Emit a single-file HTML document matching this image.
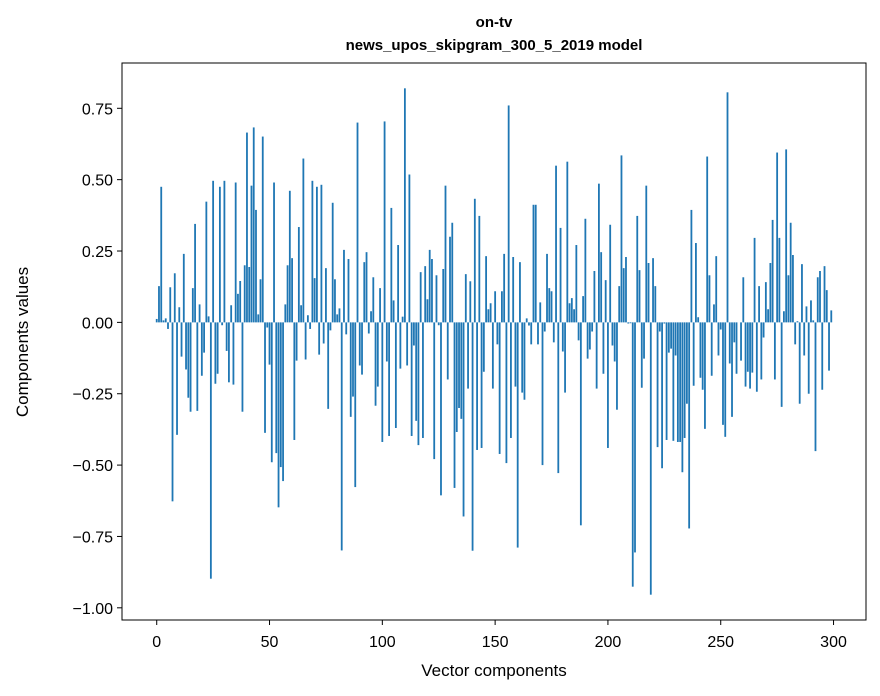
<!DOCTYPE html>
<html><head><meta charset="utf-8"><style>
body{margin:0;background:#fff}
svg{display:block;font-family:"Liberation Sans",sans-serif}
</style></head><body>
<svg id="chart" width="880" height="696">
<text x="494" y="27" text-anchor="middle" font-size="15" font-weight="bold">on-tv</text>
<text x="494" y="50" text-anchor="middle" font-size="15" font-weight="bold">news_upos_skipgram_300_5_2019 model</text>
<g id="bars"></g>
<rect x="122" y="63" width="744" height="557" fill="none" stroke="#000" stroke-width="1"/>
<g id="xt"></g>
<g id="yt"></g>
<text x="494" y="676" text-anchor="middle" font-size="17">Vector components</text>
<text transform="translate(28,342) rotate(-90)" text-anchor="middle" font-size="17">Components values</text>
</svg>
<script>
const values1=[0.012,0.127,0.475,0.007,0.014,-0.023,0.123,-0.627,0.172,-0.394,0.053,-0.12,0.24,-0.165,-0.264,-0.313,0.12,0.345,-0.31,0.063,-0.187,-0.106,0.423,0.021,-0.898,0.496,-0.215,-0.18,0.475,-0.01,0.496,-0.1,-0.21,0.06,-0.218,0.49,0.1,0.145,-0.313,0.2,0.665,0.194,0.479,0.683,0.394,0.028,0.151,0.651,-0.387,-0.018,-0.148];
const values2=[-0.49,0.49,-0.458,-0.648,-0.507,-0.556,0.063,0.2,0.461,0.225,-0.412,-0.134,0.334,0.06,0.574,-0.13,0.025,-0.023,0.496,0.155,0.475,-0.113,0.482,-0.074,0.19,-0.303,-0.028,0.419,0.151,0.028,0.049,-0.799,0.254,-0.042,0.222,-0.331,-0.26,-0.577,0.70,-0.151,-0.183,0.211,0.246,-0.039,0.039,0.158,-0.292,-0.225,0.12,-0.419,0.704];
const values3=[-0.137,-0.398,0.401,0.077,-0.37,0.271,-0.162,0.02,0.82,-0.151,0.518,-0.398,-0.081,-0.345,-0.43,0.176,-0.405,0.197,0.081,0.254,0.222,-0.479,0.165,-0.01,-0.606,0.187,0.479,-0.2,0.3,0.349,-0.58,-0.384,-0.3,-0.338,-0.68,0.169,-0.232,0.144,-0.8,0.433,-0.447,0.373,-0.44,-0.173,0.232,0.046,0.067,-0.232,0.109,-0.077,-0.461];
const values4=[0.109,0.24,-0.493,0.76,-0.405,0.229,-0.225,-0.789,0.211,-0.246,-0.271,0.014,-0.011,-0.077,0.412,0.412,-0.077,0.07,-0.5,-0.032,0.24,0.12,0.109,-0.07,0.549,-0.528,0.331,-0.102,-0.246,0.563,0.067,0.085,0.046,0.271,-0.063,-0.711,0.092,0.363,-0.127,-0.095,-0.032,0.18,-0.232,0.486,0.246,-0.18,0.148,-0.44,0.342,-0.081,-0.137];
const values5=[-0.306,0.127,0.585,0.19,0.229,-0.004,-0.003,-0.926,-0.806,0.373,0.183,-0.229,-0.127,0.479,0.208,-0.954,0.225,0.127,-0.437,-0.032,-0.511,-0.004,-0.412,-0.106,-0.092,-0.415,-0.116,-0.419,-0.419,-0.525,-0.405,-0.285,-0.722,0.394,-0.222,0.278,0.018,-0.194,-0.236,-0.373,0.581,0.165,-0.187,0.063,0.232,-0.116,-0.025,-0.359,-0.401,0.806,-0.144];
const values6=[-0.331,-0.07,-0.18,0.0,-0.134,0.158,-0.225,-0.173,-0.232,-0.176,0.296,-0.243,0.127,-0.2,-0.053,0.141,0.046,0.208,0.359,-0.2,0.595,0.296,-0.296,0.039,0.606,0.165,0.349,0.236,-0.077,0.004,-0.285,0.204,-0.116,0.056,-0.25,0.077,0.007,-0.451,0.158,0.18,-0.236,0.197,0.113,-0.169,0.042];
const xTicks=[0,50,100,150,200,250,300];
const yTicks=[0.75,0.5,0.25,0,-0.25,-0.5,-0.75,-1.0];
const yTickLabels=["0.75","0.50","0.25","0.00","\u22120.25","\u22120.50","\u22120.75","\u22121.00"];

const values=[].concat(values1,values2,values3,values4,values5,values6);
const n=values.length;
const xmin=-0.4-0.05*(n-0.2), xmax=(n-0.6)+0.05*(n-0.2);
function xs(v){return 122+(v-xmin)*744/(xmax-xmin);}
const vmax=Math.max(...values), vmin=Math.min(...values), pad=(vmax-vmin)*0.05;
const ymax=vmax+pad, ymin=vmin-pad;
function ys(v){return 63+(ymax-v)*557/(ymax-ymin);}
const NS="http://www.w3.org/2000/svg";
const bars=document.getElementById('bars');
values.forEach((v,i)=>{
  const r=document.createElementNS(NS,'rect');
  const x0=xs(i-0.4), x1=xs(i+0.4);
  const y0=ys(Math.max(v,0)), y1=ys(Math.min(v,0));
  r.setAttribute('x',x0);r.setAttribute('width',x1-x0);
  r.setAttribute('y',y0);r.setAttribute('height',Math.max(y1-y0,0.01));
  r.setAttribute('fill','#1f77b4');
  
  
  bars.appendChild(r);
});
const xt=document.getElementById('xt');
xTicks.forEach(t=>{
  const x=xs(t);
  const l=document.createElementNS(NS,'line');
  l.setAttribute('x1',x);l.setAttribute('x2',x);l.setAttribute('y1',620);l.setAttribute('y2',625);l.setAttribute('stroke','#000');
  
  
  xt.appendChild(l);
  const tx=document.createElementNS(NS,'text');
  tx.setAttribute('x',x);tx.setAttribute('y',647);tx.setAttribute('text-anchor','middle');tx.setAttribute('font-size','16');
  tx.textContent=t;
  
  
  xt.appendChild(tx);
});
const yt=document.getElementById('yt');
yTicks.forEach((t,k)=>{
  const y=ys(t);
  const l=document.createElementNS(NS,'line');
  l.setAttribute('x1',117);l.setAttribute('x2',122);l.setAttribute('y1',y);l.setAttribute('y2',y);l.setAttribute('stroke','#000');
  
  
  yt.appendChild(l);
  const tx=document.createElementNS(NS,'text');
  tx.setAttribute('x',113);tx.setAttribute('y',y+6);tx.setAttribute('text-anchor','end');tx.setAttribute('font-size','16');
  tx.textContent=yTickLabels[k];
  
  
  yt.appendChild(tx);
});
</script>
</body></html>
